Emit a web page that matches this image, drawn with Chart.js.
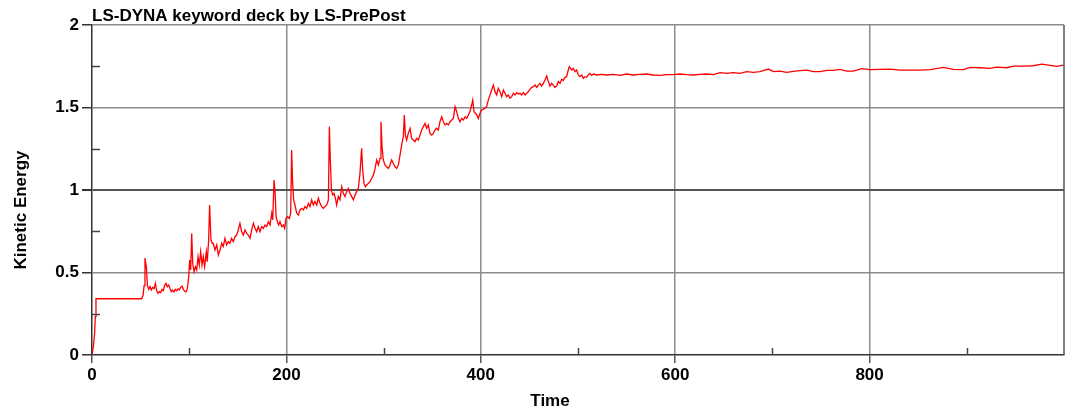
<!DOCTYPE html>
<html lang="en">
<head>
    <meta charset="UTF-8">
    <title>Kinetic Energy</title>
    <script src="https://cdn.jsdelivr.net/npm/chart.js"></script>
    <style>
        body {
            margin: 0;
            background: #ffffff;
        }
        .wrap {
            position: relative;
            width: 1075px;
            height: 414px;
        }
    </style>
</head>
<body>
    <div class="wrap">
        <canvas id="keChart"></canvas>
    </div>

    <script>
        // values (time, kinetic energy)
        const times = [
            0, 1.4, 2.7, 3.4, 4.1, 51, 52.5, 53.6, 54.5, 55.9,
            57, 58.3, 59.7, 61, 62.4, 63.8, 65.2, 66.5, 67.9, 69.3,
            70.6, 72, 73.4, 74.8, 76.1, 77.5, 78.9, 80.2, 81.6, 83,
            84.4, 85.7, 87.1, 88.5, 89.8, 91.2, 92.6, 94, 95.3, 96.7,
            98.1, 99.5, 100.5, 101.5, 102.6, 103.6, 105, 106.4, 107.7, 109.1,
            110.4, 111.8, 113.2, 114.5, 115.9, 117.6, 118.6, 120, 121, 122.4,
            123.8, 124.8, 126.5, 128.3, 130, 131.7, 133.4, 135, 136.8, 138.5,
            140.2, 141.9, 143.6, 145.4, 147.1, 148.8, 150.5, 152.2, 154, 155.7,
            157.4, 159.1, 160.8, 162.6, 164.3, 166, 167.7, 169.4, 171.1, 172.8,
            174.6, 176.3, 178, 179.7, 181.5, 183.2, 184.9, 185.9, 187.3, 188.3,
            189.4, 190.7, 192.1, 193.4, 195.2, 196.9, 198.2, 199.6, 201.3, 203,
            204.4, 205.4, 206.4, 207.5, 208.8, 210.6, 212.3, 214, 215.7, 217.4,
            219.1, 220.9, 222.6, 224.3, 226, 227.7, 229.4, 231.2, 232.9, 234.6,
            236.3, 238, 239.7, 241.5, 243.2, 244.2, 245.2, 246.3, 247.6, 249,
            250.4, 251.7, 253.4, 255.1, 256.9, 258.6, 260.3, 262, 263.7, 265.4,
            267.2, 268.9, 270.6, 272.3, 274, 275.7, 277.4, 278.5, 279.8, 281.2,
            282.6, 284.3, 286, 287.7, 289.5, 291.2, 292.9, 294.6, 296.3, 297.3,
            298.4, 299.7, 301.4, 303.1, 304.9, 306.6, 308.3, 310, 311.7, 313.4,
            315.2, 316.9, 318.6, 320.3, 321.3, 322.4, 323.7, 325.4, 327.2, 328.9,
            330.6, 332.3, 334, 335.7, 337.5, 339.2, 340.9, 342.6, 344.3, 346,
            347.7, 349.5, 351.2, 352.9, 354.6, 356.3, 358, 359.8, 361.5, 363.2,
            364.9, 366.6, 368.3, 370, 371.8, 373.5, 375.2, 376.9, 378.6, 380.3,
            382.1, 383.8, 385.5, 387.2, 388.9, 390.6, 391.7, 393, 394.4, 395.8,
            397.5, 399.2, 400.9, 402.6, 404.3, 406, 407.7, 409.5, 411.2, 412.9,
            414.6, 416.3, 418, 419.8, 421.5, 423.2, 424.9, 426.6, 428.3, 430,
            431.8, 433.5, 435.2, 436.9, 438.6, 440.3, 442, 443.8, 445.5, 447.2,
            448.9, 450.6, 452.3, 454, 455.8, 457.5, 459.2, 460.9, 462.6, 464.3,
            466, 467.8, 469.5, 471.2, 472.9, 474.6, 476.3, 478.1, 479.8, 481.5,
            483.2, 484.9, 486.6, 488.3, 490, 491.1, 493.5, 495.2, 496.9, 498.6,
            500.3, 502, 503.8, 505.5, 507.2, 508.9, 510.6, 512.3, 514, 515.8,
            519.2, 524.3, 529.5, 536.3, 543.2, 550, 556.9, 563.8, 570.6, 577.5,
            584.4, 591.2, 598.1, 605, 611.8, 618.7, 625.5, 632.4, 639.3, 646.1,
            653, 659.8, 666.7, 673.6, 680.4, 687.2, 695.8, 701, 707.8, 714.7,
            721.6, 728.4, 735.3, 742.2, 749, 755.9, 762.8, 769.5, 776.5, 783.3,
            791.9, 800.4, 810.7, 821, 831.3, 841.6, 851.9, 862.2, 875.9, 886.2,
            896.5, 903.4, 913.6, 923.9, 930.8, 941.1, 948, 958.2, 968.5, 977.1,
            985.7, 992.5, 999.4
        ];
        const kineticEnergy = [
            0, 0.05, 0.13, 0.232, 0.341, 0.341, 0.36, 0.42, 0.588, 0.535,
            0.424, 0.398, 0.414, 0.394, 0.41, 0.402, 0.434, 0.39, 0.374, 0.384,
            0.378, 0.398, 0.39, 0.424, 0.434, 0.414, 0.424, 0.404, 0.384, 0.394,
            0.382, 0.398, 0.39, 0.402, 0.394, 0.41, 0.418, 0.398, 0.386, 0.382,
            0.402, 0.475, 0.576, 0.515, 0.737, 0.556, 0.505, 0.535, 0.515, 0.596,
            0.545, 0.626, 0.545, 0.596, 0.535, 0.626, 0.566, 0.697, 0.909, 0.697,
            0.677, 0.677, 0.636, 0.667, 0.606, 0.636, 0.677, 0.657, 0.707, 0.667,
            0.687, 0.677, 0.707, 0.687, 0.717, 0.727, 0.758, 0.798, 0.747, 0.727,
            0.758, 0.737, 0.727, 0.707, 0.758, 0.798, 0.768, 0.747, 0.778, 0.747,
            0.778, 0.768, 0.788, 0.778, 0.808, 0.788, 0.859, 0.818, 1.06, 0.99,
            0.838, 0.808, 0.788, 0.808, 0.778, 0.788, 0.768, 0.828, 0.838, 0.828,
            0.859, 1.242, 1.04, 0.94, 0.909, 0.859, 0.848, 0.879, 0.889, 0.879,
            0.899, 0.889, 0.919, 0.899, 0.94, 0.909, 0.93, 0.909, 0.95, 0.919,
            0.899, 0.889, 0.899, 0.909, 0.94, 1.384, 1.182, 1.0, 0.97, 0.98,
            0.95, 0.909, 0.96, 0.94, 1.02, 0.98, 0.96, 0.99, 1.01, 0.98,
            0.96, 0.94, 0.97, 0.99, 1.01, 1.101, 1.253, 1.121, 1.04, 1.02,
            1.03, 1.04, 1.05, 1.07, 1.09, 1.131, 1.182, 1.152, 1.192, 1.414,
            1.263, 1.182, 1.152, 1.141, 1.131, 1.152, 1.182, 1.162, 1.141, 1.131,
            1.152, 1.212, 1.273, 1.323, 1.455, 1.333, 1.303, 1.343, 1.374, 1.313,
            1.303, 1.293, 1.313, 1.303, 1.333, 1.364, 1.384, 1.404, 1.374, 1.394,
            1.343, 1.333, 1.343, 1.364, 1.374, 1.364, 1.414, 1.444, 1.414, 1.394,
            1.404, 1.394, 1.414, 1.424, 1.434, 1.505, 1.475, 1.434, 1.414, 1.434,
            1.424, 1.444, 1.434, 1.455, 1.475, 1.515, 1.545, 1.475, 1.465, 1.455,
            1.434, 1.465, 1.485, 1.489, 1.495, 1.505, 1.545, 1.576, 1.606, 1.636,
            1.596, 1.576, 1.616, 1.596, 1.566, 1.606, 1.586, 1.566, 1.576, 1.556,
            1.566, 1.586, 1.576, 1.59, 1.582, 1.586, 1.576, 1.59, 1.576, 1.586,
            1.596, 1.61, 1.622, 1.626, 1.636, 1.622, 1.636, 1.646, 1.63, 1.646,
            1.667, 1.691, 1.657, 1.63, 1.646, 1.636, 1.622, 1.63, 1.657, 1.646,
            1.671, 1.663, 1.683, 1.687, 1.727, 1.747, 1.727, 1.737, 1.717, 1.727,
            1.697, 1.687, 1.697, 1.677, 1.687, 1.683, 1.697, 1.707, 1.695, 1.703,
            1.697, 1.701, 1.697, 1.701, 1.695, 1.703, 1.697, 1.701, 1.703, 1.697,
            1.695, 1.699, 1.699, 1.703, 1.699, 1.697, 1.701, 1.703, 1.699, 1.711,
            1.707, 1.711, 1.707, 1.717, 1.713, 1.717, 1.733, 1.717, 1.721, 1.713,
            1.719, 1.723, 1.727, 1.717, 1.717, 1.725, 1.725, 1.731, 1.721, 1.721,
            1.735, 1.729, 1.731, 1.733, 1.727, 1.727, 1.727, 1.729, 1.743, 1.731,
            1.729, 1.743, 1.741, 1.737, 1.745, 1.741, 1.751, 1.751, 1.753, 1.763,
            1.755, 1.749, 1.757
        ];
        const xMajorLabels = [0, 200, 400, 600, 800];
        const yMajorLabels = [0, 0.5, 1, 1.5, 2];
        const xMinorTicks = [100, 300, 500, 700, 900];
        const yMinorTicks = [0.25, 0.75, 1.25, 1.75];

        const points = times.map((t, i) => ({ x: t, y: kineticEnergy[i] }));
        const labelFont = { family: 'Arial, "Liberation Sans", sans-serif', size: 17, weight: 'bold' };

        // extra drawing: minor ticks pointing inward, frame, titles
        const lsPrePostLook = {
            id: 'lsPrePostLook',
            afterDraw(chart) {
                const c = chart.ctx;
                const xs = chart.scales.x, ys = chart.scales.y;
                const a = chart.chartArea;
                c.save();
                c.strokeStyle = '#444';
                c.lineWidth = 1.5;
                c.beginPath();
                xMinorTicks.forEach(v => {
                    const px = Math.round(xs.getPixelForValue(v)) + 0.5;
                    c.moveTo(px, a.bottom);
                    c.lineTo(px, a.bottom - 7);
                });
                yMinorTicks.forEach(v => {
                    const py = Math.round(ys.getPixelForValue(v)) + 0.5;
                    c.moveTo(a.left, py);
                    c.lineTo(a.left + 8, py);
                });
                c.stroke();

                // right border
                c.strokeStyle = '#555';
                c.beginPath();
                c.moveTo(a.right, a.top);
                c.lineTo(a.right, a.bottom);
                c.stroke();

                c.fillStyle = '#000';
                c.font = 'bold 17px Arial, "Liberation Sans", sans-serif';
                c.textBaseline = 'alphabetic';
                c.textAlign = 'left';
                c.fillText('LS-DYNA keyword deck by LS-PrePost', 92, 21);

                c.textAlign = 'center';
                c.textBaseline = 'middle';
                c.fillText('Time', 550, 401);

                c.translate(21, 210);
                c.rotate(-Math.PI / 2);
                c.fillText('Kinetic Energy', 0, 0);
                c.restore();
            }
        };

        new Chart(document.getElementById('keChart'), {
            type: 'line',
            data: {
                datasets: [{
                    data: points,
                    borderColor: '#ff0000',
                    borderWidth: 1.3,
                    pointRadius: 0,
                    tension: 0,
                    fill: false
                }]
            },
            options: {
                responsive: true,
                maintainAspectRatio: false,
                animation: false,
                layout: { padding: { left: 0, top: 25, right: 11, bottom: 0 } },
                plugins: {
                    legend: { display: false },
                    tooltip: { enabled: false }
                },
                scales: {
                    x: {
                        type: 'linear',
                        min: 0,
                        max: 1000,
                        afterFit(scale) { scale.height = 59; },
                        border: { color: '#333', width: 1.5 },
                        grid: {
                            color: ctx => (ctx.tick.value % 200 === 0 && ctx.tick.value > 0 && ctx.tick.value < 1000) ? '#8c8c8c' : 'transparent',
                            lineWidth: 1.5,
                            tickLength: 8,
                            tickColor: ctx => xMajorLabels.includes(ctx.tick.value) ? '#555' : 'transparent'
                        },
                        ticks: {
                            stepSize: 100,
                            autoSkip: false,
                            maxRotation: 0,
                            padding: 2,
                            color: '#000',
                            font: labelFont,
                            callback: v => xMajorLabels.includes(v) ? String(v) : ''
                        }
                    },
                    y: {
                        min: 0,
                        max: 2,
                        afterFit(scale) { scale.width = 92; },
                        border: { color: '#333', width: 1.5 },
                        grid: {
                            color: ctx => {
                                const v = ctx.tick.value;
                                if (v === 1) return '#555';
                                return (yMajorLabels.includes(v) && v > 0) ? '#8c8c8c' : 'transparent';
                            },
                            lineWidth: ctx => ctx.tick.value === 1 ? 2 : 1.5,
                            tickLength: 10,
                            tickColor: ctx => yMajorLabels.includes(ctx.tick.value) ? '#333' : 'transparent'
                        },
                        ticks: {
                            stepSize: 0.25,
                            autoSkip: false,
                            padding: 3,
                            color: '#000',
                            font: labelFont,
                            callback: v => yMajorLabels.includes(v) ? String(v) : ''
                        }
                    }
                }
            },
            plugins: [lsPrePostLook]
        });
    </script>
</body>
</html>
